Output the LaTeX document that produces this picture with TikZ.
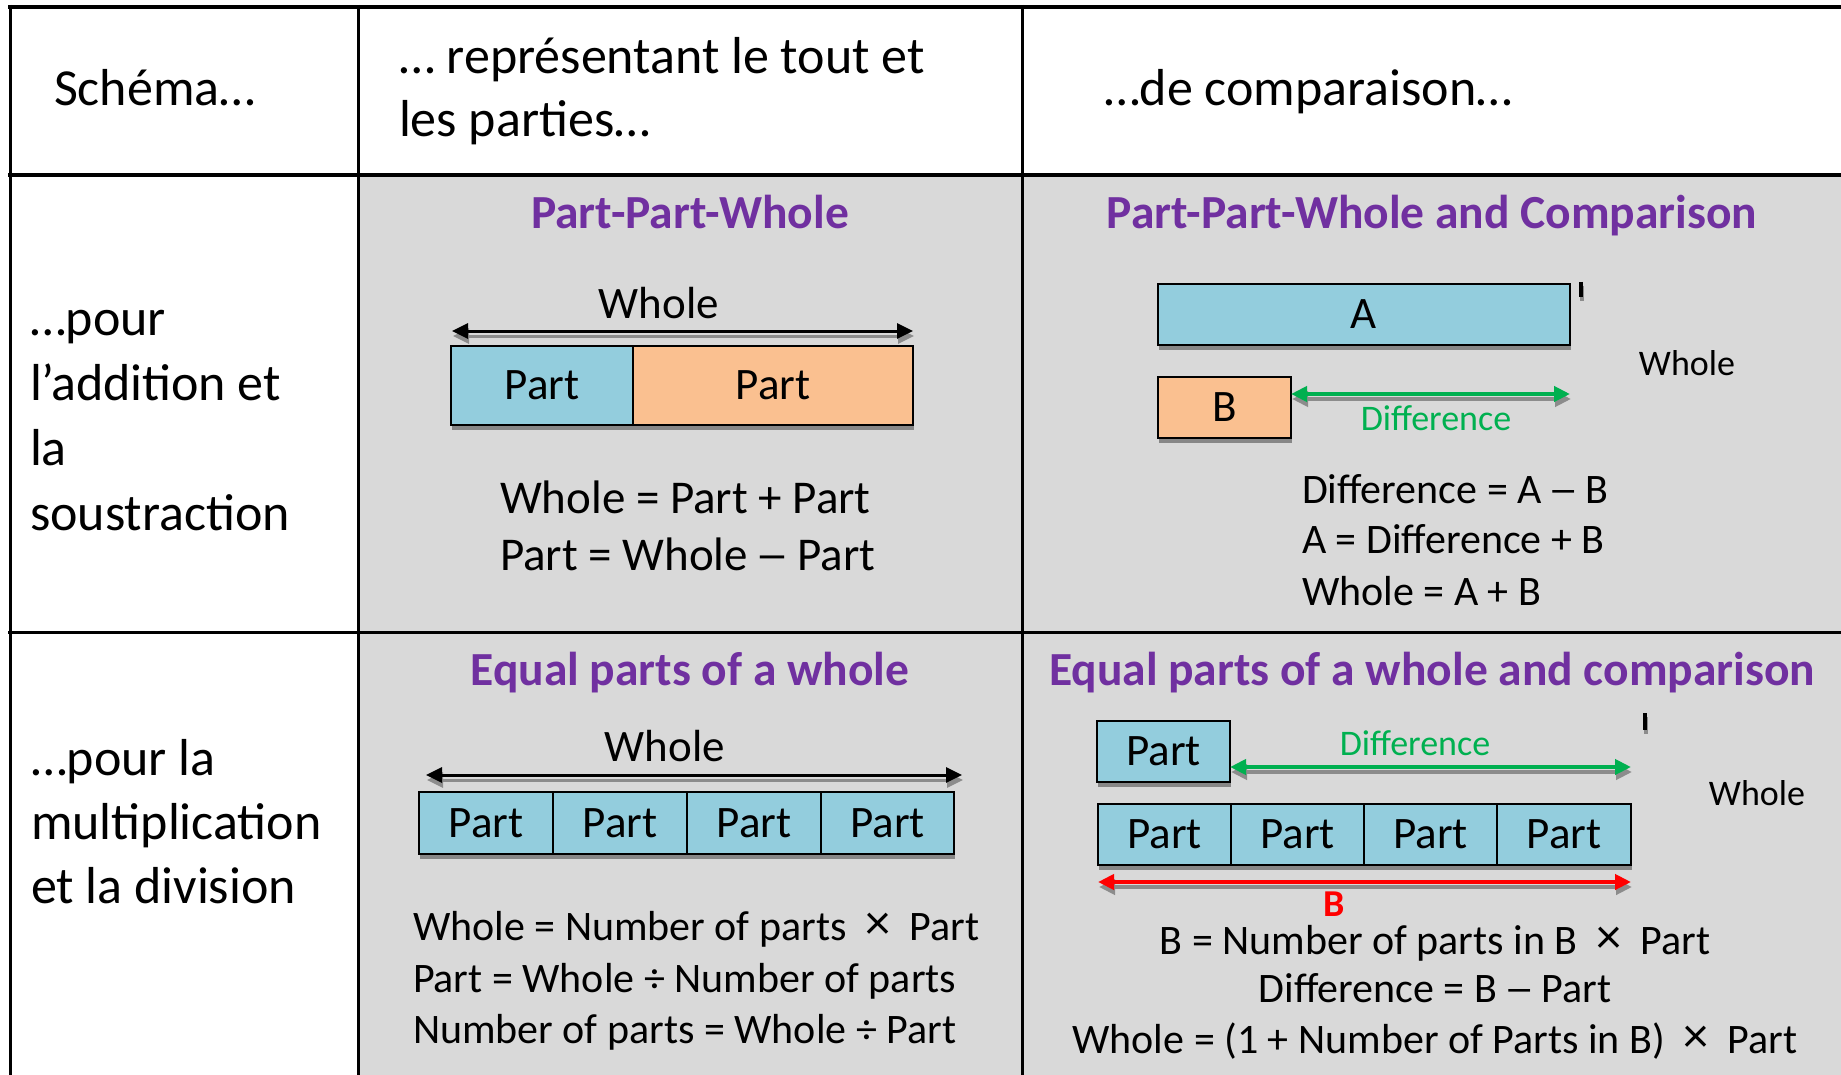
\documentclass[tikz,border=0pt]{standalone}
\usepackage{fontspec}
\setmainfont{Carlito}
\usetikzlibrary{arrows.meta,shadows}
\definecolor{bggray}{HTML}{D9D9D9}
\definecolor{pblue}{HTML}{93CDDD}
\definecolor{porange}{HTML}{FAC090}
\definecolor{ttlpurple}{HTML}{7030A0}
\definecolor{dgreen}{HTML}{00B050}
\definecolor{dred}{HTML}{FF0000}
\newcommand\fHead{\fontsize{52}{64}\selectfont}
\newcommand\fTitle{\fontsize{47.5}{57}\selectfont\bfseries}
\newcommand\fEqA{\fontsize{47}{57}\selectfont}
\newcommand\fEqB{\fontsize{42}{50.5}\selectfont}
\newcommand\fBox{\fontsize{45}{54}\selectfont}
\newcommand\fSmall{\fontsize{36}{43}\selectfont}
\newcommand\tms{\makebox[0.5em]{\raisebox{1pt}{\scalebox{1.2}{×}}}}
\newcommand\dsh{\makebox[0.6em]{\scalebox{1.45}[1]{–}}}
\begin{document}
\begin{tikzpicture}[x=1pt,y=-1pt,
  lbl/.style={inner sep=0pt,outer sep=0pt},
  head/.style={lbl,font=\fHead,anchor=base west},
  eqa/.style={lbl,font=\fEqA,anchor=base west},
  eqb/.style={lbl,font=\fEqB,anchor=base west},
  eqc/.style={lbl,font=\fEqB,anchor=base},
  ttl/.style={lbl,font=\fTitle,text=ttlpurple,anchor=base},
  rule/.style={line width=3pt,black},
  hrule/.style={line width=4pt,black},
  pbox/.style={draw=black,line width=2.5pt,inner sep=0pt,outer sep=0pt,font=\fBox,
     drop shadow={shadow xshift=1pt,shadow yshift=-5pt,fill=black!55,opacity=.8}},
  dblarrow/.style={line width=3pt,{Triangle[length=16pt,width=15pt]}-{Triangle[length=16pt,width=15pt]}},
  arrshadow/.style={draw=black!45,transform canvas={xshift=1pt,yshift=-5pt}},
  tick/.style={line width=4pt,black},
]
\useasboundingbox (0,0) rectangle (1841,1075);
% table background and rules
\fill[white] (0,0) rectangle (1841,1075);
\fill[bggray] (358,175) rectangle (1841,1075);
\draw[hrule] (8,7) -- (1841,7);
\draw[hrule] (8,175) -- (1841,175);
\draw[rule] (8,632) -- (1841,632);
\draw[rule] (10,5) -- (10,1075);
\draw[rule] (358,5) -- (358,1075);
\draw[rule] (1022,5) -- (1022,1075);

% header row
\node[head] (h1) at (54,106) {Schéma…};
\node[head] (h2a) at (399,74) {… représentant le tout et};
\node[head] (h2b) at (399,137) {les parties…};
\node[head] (h3) at (1104,106) {…de comparaison…};

% left column
\node[head] (r1a) at (30,335) {…pour};
\node[head] (r1b) at (30,400) {l’addition et};
\node[head] (r1c) at (30,465) {la};
\node[head] (r1d) at (30,530) {soustraction};
\node[head] (r2a) at (31,775) {…pour la};
\node[head] (r2b) at (31,839) {multiplication};
\node[head] (r2c) at (31,903) {et la division};

% ---------- Part-Part-Whole ----------
\node[ttl] (t1) at (690,229) {Part-Part-Whole};
\node[lbl,font=\fBox,anchor=base] (w1) at (659,318) {Whole};
\coordinate (w1L) at (452,331);
\coordinate (w1R) at (913,331);
\draw[dblarrow,arrshadow] (w1L) -- (w1R);
\draw[dblarrow] (w1L) -- (w1R);
\node[pbox,fill=pblue,minimum width=182,minimum height=79,anchor=north west] (pa) at (451,346) {Part};
\node[pbox,fill=porange,minimum width=280,minimum height=79,anchor=north west] (pb) at (633,346) {Part};
\node[eqa] (e1a) at (500,513) {Whole = Part + Part};
\node[eqa] (e1b) at (500,570) {Part = Whole \dsh{} Part};

% ---------- Part-Part-Whole and Comparison ----------
\node[ttl] (t2) at (1432,229) {Part-Part-Whole and Comparison};
\node[pbox,fill=pblue,minimum width=412,minimum height=61,anchor=north west] (ba) at (1158,284) {A};
\draw[tick,transform canvas={xshift=1pt,yshift=-4pt},black!45] (1581,282) -- (1581,297);
\draw[tick] (1581,282) -- (1581,297);
\node[pbox,fill=porange,minimum width=133,minimum height=61,anchor=north west] (bb) at (1158,377) {B};
\coordinate (d1L) at (1291,394);
\coordinate (d1R) at (1570,394);
\draw[dblarrow,line width=4pt,arrshadow] (d1L) -- (d1R);
\draw[dblarrow,line width=4pt,dgreen] (d1L) -- (d1R);
\node[lbl,font=\fSmall,text=dgreen,anchor=base] (dl1) at (1436,430) {Difference};
\node[lbl,font=\fSmall,anchor=base] (w2) at (1687,375) {Whole};
\node[eqb] (e2a) at (1302,503) {Difference = A \dsh{} B};
\node[eqb] (e2b) at (1302,553) {A = Difference + B};
\node[eqb] (e2c) at (1302,605) {Whole = A + B};

% ---------- Equal parts of a whole ----------
\node[ttl] (t3) at (690,685) {Equal parts of a whole};
\node[lbl,font=\fBox,anchor=base] (w3) at (665,761) {Whole};
\coordinate (w3L) at (426,775);
\coordinate (w3R) at (962,775);
\draw[dblarrow,arrshadow] (w3L) -- (w3R);
\draw[dblarrow] (w3L) -- (w3R);
\node[pbox,fill=pblue,minimum width=134,minimum height=62,anchor=north west] (q1) at (419,792) {Part};
\node[pbox,fill=pblue,minimum width=134,minimum height=62,anchor=north west] (q2) at (553,792) {Part};
\node[pbox,fill=pblue,minimum width=134,minimum height=62,anchor=north west] (q3) at (687,792) {Part};
\node[pbox,fill=pblue,minimum width=133,minimum height=62,anchor=north west] (q4) at (821,792) {Part};
\node[eqb] (e3a) at (413,940) {Whole = Number of parts\hspace{0.5em}\tms\hspace{0.5em}Part};
\node[eqb] (e3b) at (413,992) {Part = Whole ÷ Number of parts};
\node[eqb] (e3c) at (413,1043) {Number of parts = Whole ÷ Part};

% ---------- Equal parts of a whole and comparison ----------
\node[ttl] (t4) at (1432,685) {Equal parts of a whole and comparison};
\node[pbox,fill=pblue,minimum width=133,minimum height=61,anchor=north west] (s0) at (1097,721) {Part};
\draw[tick,transform canvas={xshift=1pt,yshift=-4pt},black!45] (1645,713) -- (1645,730);
\draw[tick] (1645,713) -- (1645,730);
\node[lbl,font=\fSmall,text=dgreen,anchor=base] (dl2) at (1415,755) {Difference};
\coordinate (d2L) at (1230,767);
\coordinate (d2R) at (1631,767);
\draw[dblarrow,line width=4pt,arrshadow] (d2L) -- (d2R);
\draw[dblarrow,line width=4pt,dgreen] (d2L) -- (d2R);
\node[lbl,font=\fSmall,anchor=base] (w4) at (1757,805) {Whole};
\node[pbox,fill=pblue,minimum width=133,minimum height=61,anchor=north west] (s1) at (1098,804) {Part};
\node[pbox,fill=pblue,minimum width=133,minimum height=61,anchor=north west] (s2) at (1231,804) {Part};
\node[pbox,fill=pblue,minimum width=133,minimum height=61,anchor=north west] (s3) at (1364,804) {Part};
\node[pbox,fill=pblue,minimum width=134,minimum height=61,anchor=north west] (s4) at (1497,804) {Part};
\coordinate (bL) at (1098,882);
\coordinate (bR) at (1631,882);
\draw[dblarrow,line width=4pt,arrshadow] (bL) -- (bR);
\draw[dblarrow,line width=4pt,dred] (bL) -- (bR);
\node[lbl,font=\fontsize{38}{46}\selectfont\bfseries,text=dred,anchor=base] (bl) at (1334,916) {B};
\node[eqc] (e4a) at (1435,954) {B = Number of parts in B\hspace{0.5em}\tms\hspace{0.5em}Part};
\node[eqc] (e4b) at (1435,1002) {Difference = B \dsh{} Part};
\node[eqc] (e4c) at (1435,1053) {Whole = (1 + Number of Parts in B)\hspace{0.5em}\tms\hspace{0.5em}Part};
\end{tikzpicture}
\end{document}
